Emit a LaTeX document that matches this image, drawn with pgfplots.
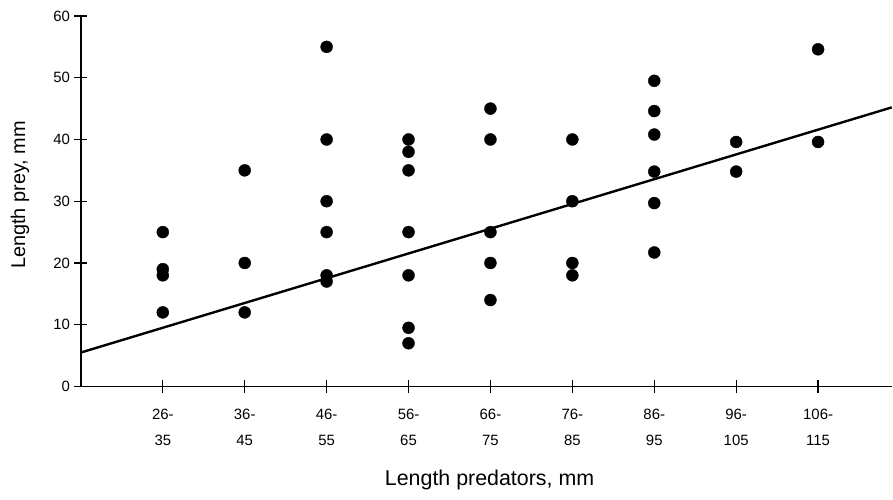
\documentclass[border=0pt]{standalone}
\usepackage{pgfplots}
\pgfplotsset{compat=1.18}
\usepackage{fontspec}
\setmainfont{Liberation Sans}
\begin{document}
\begin{tikzpicture}
\begin{axis}[
  scale only axis=true,
  width=812bp, height=371bp,
  xmin=0, xmax=9.9, ymin=0, ymax=60,
  axis x line=bottom, axis y line=left,
  axis line style={-, line width=1.6bp},
  xtick={1,...,9},
  xticklabels={26-\\35,36-\\45,46-\\55,56-\\65,66-\\75,76-\\85,86-\\95,96-\\105,106-\\115},
  ytick={0,10,...,60},
  tick align=center,
  major tick length=13bp,
  tick style={line width=1.2bp, black},
  /pgf/number format/assume math mode=true,
  x tick label style={align=center, font=\fontsize{15}{26}\selectfont, yshift=-13bp},
  y tick label style={font=\fontsize{15}{17}\selectfont, xshift=-1bp},
  xlabel={Length predators, mm},
  ylabel={Length prey, mm},
  xlabel style={font=\fontsize{21.5}{24}\selectfont, at={(axis description cs:0.504,-0.252)}, anchor=center},
  ylabel style={font=\fontsize{20}{22}\selectfont, at={(axis description cs:-0.075,0.517)}, anchor=center},
  clip=false,
]
\addplot[only marks, mark=*, mark size=6bp, black] table {
x y
1 25
1 19
1 18
1 12
2 35
2 20
2 12
3 55
3 40
3 30
3 25
3 18
3 17
4 40
4 38
4 35
4 25
4 18
4 9.5
4 7
5 45
5 40
5 25
5 20
5 14
6 40
6 30
6 20
6 18
7 49.5
7 44.6
7 40.8
7 34.8
7 29.7
7 21.7
8 39.6
8 34.8
9 54.6
9 39.6
};
\addplot[black, line width=2.4bp] table {
x y
0 5.5
9.9 45.2
};
\end{axis}
\path (current axis.origin) ++(-81bp,-113bp) rectangle ++(893bp,500bp);
\end{tikzpicture}
\end{document}
